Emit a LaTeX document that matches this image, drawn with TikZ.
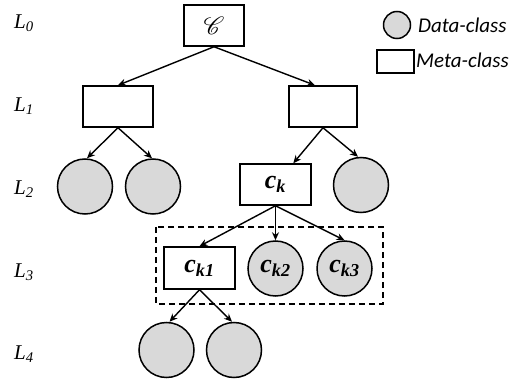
\documentclass[tikz,border=0pt]{standalone}
\usepackage{fontspec}
\setmainfont{Liberation Serif}
\newfontfamily\legendfont{Carlito}
\usepackage{mathrsfs}
\usetikzlibrary{arrows.meta}

\begin{document}
\begin{tikzpicture}[x=1pt, y=-1pt,
    box/.style={draw, line width=1.5pt, minimum width=70pt, minimum height=41pt, inner sep=0pt, font=\fontsize{26}{28}\selectfont\bfseries\itshape},
    dat/.style={draw, circle, fill=black!15, line width=1.5pt, minimum size=55pt, inner sep=0pt, font=\fontsize{26}{28}\selectfont\bfseries\itshape},
    lvl/.style={anchor=west, inner sep=0pt, font=\fontsize{21}{24}\selectfont\itshape},
    lgd/.style={anchor=west, inner sep=0pt, font=\fontsize{21}{24}\selectfont\legendfont\itshape},
    arr/.style={-{Stealth[length=8pt, width=7pt]}, line width=1.4pt}]
  \useasboundingbox (0,0) rectangle (530,382);

  % levels
  \node[lvl] (lv0) at (14,23)  {L\textsubscript{0}};
  \node[lvl] (lv1) at (14,106) {L\textsubscript{1}};
  \node[lvl] (lv2) at (14,189) {L\textsubscript{2}};
  \node[lvl] (lv3) at (14,272) {L\textsubscript{3}};
  \node[lvl] (lv4) at (14,354) {L\textsubscript{4}};

  % tree
  \node[box, minimum width=60pt, font=\fontsize{28}{30}\selectfont] (root) at (214,25.5) {$\mathscr{C}$};
  \node[box] (m1) at (118,106.5) {};
  \node[box, minimum width=68pt] (m2) at (323,106.5) {};
  \node[dat] (d1) at (85,186.5) {};
  \node[dat] (d2) at (153,186.5) {};
  \node[box, minimum width=71pt] (ck) at (275.5,184.5) {c\textsubscript{k}};
  \node[dat] (d3) at (361,185) {};
  \node[box, minimum width=71pt, minimum height=42pt] (ck1) at (199.5,268) {c\textsubscript{k1}};
  \node[dat] (ck2) at (275.5,268.5) {c\textsubscript{k2}};
  \node[dat] (ck3) at (344.5,268.5) {c\textsubscript{k3}};
  \node[dat] (d4) at (166.5,350) {};
  \node[dat] (d5) at (234,350) {};

  \draw[dashed, dash pattern=on 6pt off 4pt, line width=1.5pt] (156,227) rectangle (383,304);

  \draw[arr] (root.south) -- (m1.north);
  \draw[arr] (root.south) -- ([xshift=-8pt]m2.north);
  \draw[arr] (m1.south) -- ([xshift=2pt]d1.north);
  \draw[arr] (m1.south) -- ([xshift=-1pt]d2.north);
  \draw[arr] (m2.south) -- (ck);
  \draw[arr] (m2.south) -- ([xshift=-3pt]d3.north);
  \draw[arr] (ck.south) -- (ck1.north);
  \draw[arr] (ck.south) -- (ck2.north);
  \draw[arr] (ck.south) -- (ck3.north);
  \draw[arr] (ck1.south) -- ([xshift=3pt]d4.north);
  \draw[arr] (ck1.south) -- ([xshift=-2pt]d5.north);

  % legend
  \node[dat, minimum size=27pt] (kd) at (397,25) {};
  \node[lgd] (kdt) at (418,25) {Data-class};
  \node[box, minimum width=37pt, minimum height=23pt] (km) at (395.5,61.5) {};
  \node[lgd] (kmt) at (416,60) {Meta-class};
\end{tikzpicture}
\end{document}
